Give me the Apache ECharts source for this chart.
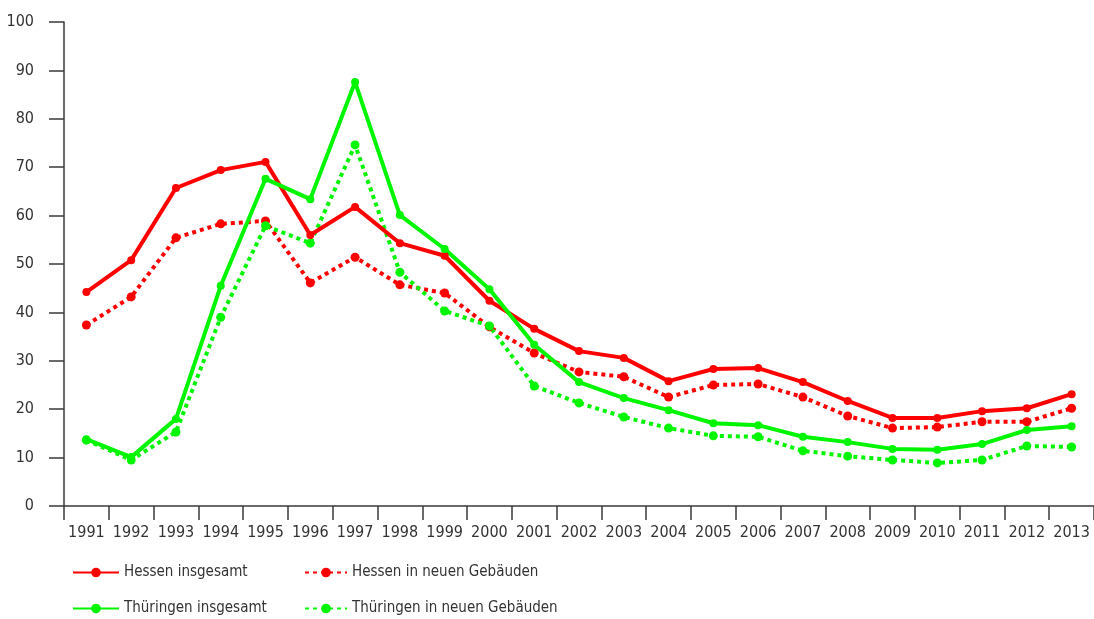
<!DOCTYPE html>
<html>
<head>
  <meta charset="utf-8" />
  <title>Hessen / Thüringen</title>
  <script src="https://cdn.jsdelivr.net/npm/echarts@6/dist/echarts.min.js"></script>
  <style>
    html, body { margin: 0; padding: 0; background: #fff; }
    #main { width: 1094px; height: 619px; }
  </style>
</head>
<body>
  <div id="main"></div>
  <script type="text/javascript">
    var years = ['1991', '1992', '1993', '1994', '1995', '1996', '1997', '1998', '1999', '2000', '2001', '2002',
                 '2003', '2004', '2005', '2006', '2007', '2008', '2009', '2010', '2011', '2012', '2013'];

    var hessenTotal = [44.2, 50.8, 65.7, 69.4, 71.1, 56.0, 61.8, 54.3, 51.7, 42.4, 36.6, 32.0,
                       30.6, 25.8, 28.3, 28.5, 25.6, 21.7, 18.2, 18.2, 19.6, 20.2, 23.1];
    var hessenNew = [37.4, 43.2, 55.4, 58.3, 58.9, 46.1, 51.4, 45.7, 44.0, 37.0, 31.6, 27.7,
                     26.7, 22.5, 25.0, 25.2, 22.5, 18.6, 16.1, 16.3, 17.4, 17.4, 20.2];
    var thuerTotal = [13.8, 10.1, 18.0, 45.5, 67.6, 63.4, 87.6, 60.1, 53.1, 44.8, 33.3, 25.6,
                      22.3, 19.8, 17.1, 16.7, 14.3, 13.2, 11.8, 11.6, 12.8, 15.7, 16.5];
    var thuerNew = [13.6, 9.5, 15.3, 39.0, 57.9, 54.3, 74.6, 48.3, 40.3, 37.2, 24.8, 21.3,
                    18.4, 16.1, 14.5, 14.3, 11.4, 10.3, 9.5, 8.9, 9.5, 12.4, 12.2];

    var names = ['Hessen insgesamt', 'Hessen in neuen Gebäuden', 'Thüringen insgesamt', 'Thüringen in neuen Gebäuden'];

    var RED = '#ff0000', GREEN = '#00f500';
    var FONT = "'DejaVu Sans Condensed', 'Liberation Sans Narrow', sans-serif";
    var AXIS = '#3a3a3a';

    function mkSeries(name, data, color, dotted) {
        return {
            name: name, type: 'line', data: data,
            symbol: 'circle', symbolSize: dotted ? 9 : 8,
            itemStyle: {color: color},
            lineStyle: {color: color, width: 4, type: dotted ? [4, 4] : 'solid', cap: 'butt'},
            z: dotted ? 2 : 3
        };
    }

    function mkLegend(name, left, top, w) {
        return {
            data: [name], left: left, top: top, padding: 0,
            itemWidth: w, itemHeight: 12,
            textStyle: {fontFamily: FONT, fontSize: 15, color: '#333'}
        };
    }

    var myChart = echarts.init(document.getElementById('main'), null, {renderer: 'canvas'});
    var option = {
        animation: false,
        backgroundColor: '#fff',
        textStyle: {fontFamily: FONT},
        grid: {left: 64, right: 0, top: 22, bottom: 113, containLabel: false},
        legend: [
            mkLegend(names[0], 72, 565, 46),
            mkLegend(names[1], 304, 565, 42),
            mkLegend(names[2], 72, 601, 46),
            mkLegend(names[3], 304, 601, 42)
        ],
        xAxis: {
            type: 'category', data: years, boundaryGap: true,
            axisLine: {lineStyle: {color: AXIS, width: 1.5}},
            axisTick: {show: true, length: 14, alignWithLabel: false, lineStyle: {color: AXIS, width: 1.5}},
            axisLabel: {margin: 19, fontSize: 16, color: '#333', fontFamily: FONT, interval: 0}
        },
        yAxis: {
            type: 'value', min: 0, max: 100, interval: 10,
            axisLine: {show: true, lineStyle: {color: AXIS, width: 1.5}},
            axisTick: {show: true, length: 15, lineStyle: {color: AXIS, width: 1.5}},
            axisLabel: {margin: 30, fontSize: 16, color: '#333', fontFamily: FONT},
            splitLine: {show: false}
        },
        series: [
            mkSeries(names[1], hessenNew, RED, true),
            mkSeries(names[3], thuerNew, GREEN, true),
            mkSeries(names[0], hessenTotal, RED, false),
            mkSeries(names[2], thuerTotal, GREEN, false)
        ]
    };
    myChart.setOption(option);
  </script>
</body>
</html>
